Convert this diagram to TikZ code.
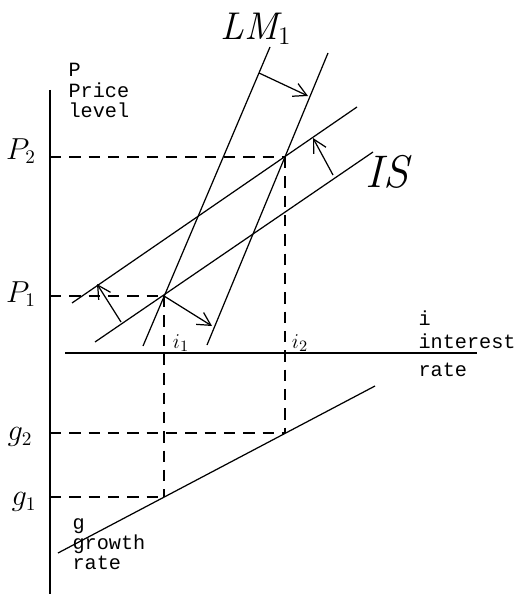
\documentclass[tikz,border=0pt]{standalone}
\usepackage{fontspec}
\setmonofont{Liberation Mono}
\usetikzlibrary{arrows.meta,positioning}

\begin{document}
\begin{tikzpicture}[
    x=0.02cm, y=-0.02cm, line width=0.7pt,
    axis/.style={line width=0.8pt},
    curve/.style={line width=0.7pt},
    guide/.style={dash pattern=on 6.5pt off 4.5pt,line width=0.7pt},
    move/.style={-{Straight Barb[length=2.6mm,width=2.8mm]},line width=0.7pt},
    axlabel/.style={font=\fontsize{11.5}{11.5}\selectfont\ttfamily,align=left,
        anchor=north west,inner sep=0pt},
    level/.style={font=\fontsize{16}{18}\selectfont,inner sep=0pt},
    curvename/.style={font=\fontsize{22}{24}\selectfont,inner sep=0pt},
    rate/.style={font=\fontsize{13}{14}\selectfont,inner sep=0pt}
]
\path[use as bounding box] (0,0) rectangle (519,594);

% axes
\coordinate (ptop) at (50,90);
\coordinate (pbot) at (50,594);
\coordinate (ileft) at (65,353);
\coordinate (iright) at (477,353);
\draw[axis] (ptop) -- (pbot);
\draw[axis] (ileft) -- (iright);

% equilibrium points and their projections
\coordinate (e1) at (164,296);
\coordinate (e2) at (285,157);
\coordinate (p1) at (50,296);
\coordinate (p2) at (50,157);
\coordinate (g1pt) at (164,497);
\coordinate (g2pt) at (285,433);
\coordinate (g1) at (50,497);
\coordinate (g2) at (50,433);

% IS curves
\coordinate (is0a) at (95,342);
\coordinate (is0b) at (373,152);
\coordinate (is1a) at (72,303);
\coordinate (is1b) at (357,107);
\draw[curve] (is0a) -- (is0b);
\draw[curve] (is1a) -- (is1b);

% LM curves
\coordinate (lm0a) at (143,346);
\coordinate (lm0b) at (270,47);
\coordinate (lm1a) at (207,345);
\coordinate (lm1b) at (328,53);
\draw[curve] (lm0a) -- (lm0b);
\draw[curve] (lm1a) -- (lm1b);

% growth line
\coordinate (gra) at (58,553);
\coordinate (grb) at (375,386);
\draw[curve] (gra) -- (grb);

% dashed guides
\draw[guide] (p2) -- (e2);
\draw[guide] (p1) -- (e1);
\draw[guide] (e1) -- (g1pt);
\draw[guide] (e2) -- (g2pt);
\draw[guide] (g2) -- (g2pt);
\draw[guide] (g1) -- (g1pt);

% shifts
\coordinate (lmfrom) at (259,73);
\coordinate (lmto) at (308,96);
\coordinate (lmto2) at (212,326);
\coordinate (isfrom) at (333,175);
\coordinate (isto) at (313,138);
\coordinate (isfrom2) at (121,322);
\coordinate (isto2) at (97,284);
\draw[move] (lmfrom) -- (lmto);
\draw[move] (e1) -- (lmto2);
\draw[move] (isfrom) -- (isto);
\draw[move] (isfrom2) -- (isto2);

% labels
\node[curvename] (lmname) at (256,29) {$\mathit{LM}_1$};
\node[curvename,font=\fontsize{26}{28}\selectfont] (isname) at (387,172) {$\mathit{IS}$};
\node[level] (p2name) at (21,151) {$P_2$};
\node[level] (p1name) at (21,294) {$P_1$};
\node[level] (g2name) at (20,437) {$g_2$};
\node[level] (g1name) at (24,502) {$g_1$};
\node[rate] (i1name) at (181,343) {$i_1$};
\node[rate] (i2name) at (300,343) {$i_2$};

\node[axlabel] (pname) at (68,63) {P\\Price\\level};
\node[axlabel,font=\fontsize{11.5}{13}\selectfont\ttfamily] (iname) at (418,310) {i\\interest};
\node[axlabel] (ratename) at (418,362) {rate};
\node[axlabel] (gname) at (72,518) {g\\growth\\rate};
\end{tikzpicture}
\end{document}
